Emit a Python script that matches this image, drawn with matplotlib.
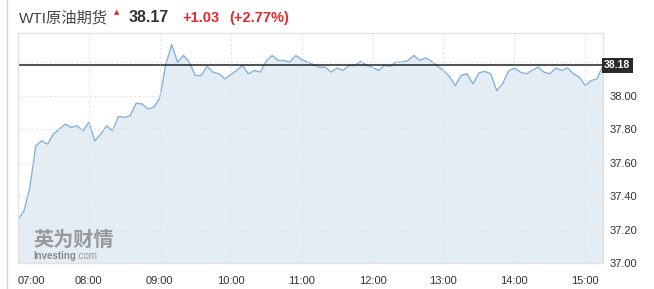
import matplotlib
matplotlib.use("Agg")
import matplotlib.pyplot as plt
import matplotlib.dates as mdates
import pandas as pd
from matplotlib.lines import Line2D

plt.rcParams['font.family'] = ['Liberation Sans', 'Noto Sans CJK SC', 'DejaVu Sans']

# WTI crude oil futures, 5-minute closes from 07:00
prices = [
    37.26, 37.31, 37.45, 37.70, 37.73, 37.71, 37.77, 37.80, 37.83, 37.81,
    37.82, 37.79, 37.84, 37.73, 37.77, 37.82, 37.79, 37.875, 37.87, 37.88,
    37.955, 37.95, 37.92, 37.93, 37.985, 38.185, 38.305, 38.20, 38.24, 38.20,
    38.12, 38.12, 38.175, 38.14, 38.13, 38.10, 38.125, 38.15, 38.18, 38.13,
    38.15, 38.14, 38.205, 38.24, 38.21, 38.21, 38.20, 38.24, 38.215, 38.20,
    38.185, 38.17, 38.17, 38.14, 38.165, 38.15, 38.18, 38.18, 38.205, 38.18,
    38.17, 38.15, 38.18, 38.175, 38.20, 38.20, 38.21, 38.24, 38.21, 38.225,
    38.205, 38.175, 38.15, 38.115, 38.06, 38.12, 38.13, 38.07, 38.135, 38.145,
    38.13, 38.03, 38.07, 38.145, 38.165, 38.14, 38.13, 38.15, 38.17, 38.14,
    38.13, 38.165, 38.15, 38.165, 38.13, 38.11, 38.06, 38.09, 38.10, 38.18,
]
times = pd.date_range("2020-06-05 07:00", periods=len(prices), freq="5min")

last_price = 38.18
title_name = "WTI原油期货"
title_price = "38.17"
title_change = "+1.03"
title_pct = "(+2.77%)"
y_ticks = [37.00, 37.20, 37.40, 37.60, 37.80, 38.00, 38.20]
x_ticks = pd.date_range("2020-06-05 07:00", "2020-06-05 15:00", freq="1h")

fig = plt.figure(figsize=(6.54, 2.89), dpi=100)
ax = fig.add_axes([18 / 654, 1 - 263 / 289, 585 / 654, 230 / 289])

ax.fill_between(times, prices, 37.0, color="#e4edf4", lw=0)
ax.plot(times, prices, color="#82b2de", lw=1.0)
ax.axhline(last_price, color="#222222", lw=1.1)

ax.set_xlim(times[0], times[-1])
ax.set_ylim(37.0, 38.374)

ax.set_yticks(y_ticks)
ax.set_yticklabels(["%.2f" % v if v < 38.1 else "" for v in y_ticks])
ax.yaxis.tick_right()
ax.set_xticks(x_ticks)
ax.xaxis.set_major_formatter(mdates.DateFormatter("%H:%M"))
ax.tick_params(length=0, labelsize=8, colors="#333333")
ax.tick_params(axis="y", pad=5)
ax.tick_params(axis="x", pad=9)
for t in ax.get_yticklabels():
    t.set_horizontalalignment("left")
ax.get_xticklabels()[0].set_horizontalalignment("left")

ax.grid(True, color="#e4e4e4", lw=0.8, linestyle=(0, (2, 2)))
ax.set_axisbelow(False)
for s in ax.spines.values():
    s.set_color("#e2e2e2")
    s.set_linewidth(1.0)

# price tag on the right
ax.text(1.002, (last_price - 37.0) / 1.374, "%.2f" % last_price,
        transform=ax.transAxes, ha="left", va="center", fontsize=7.5,
        fontweight="bold", color="white",
        bbox=dict(boxstyle="square,pad=0.25", fc="#2b2b2b", ec="none"))

# header
fig.text(19 / 654, 1 - 22 / 289, title_name, fontsize=11, color="#444444", va="baseline")
fig.text(117 / 654, 1 - 14 / 289, "▲", fontsize=5, color="#e8262c", ha="center", va="baseline",
         family="DejaVu Sans")
fig.text(129 / 654, 1 - 22 / 289, title_price, fontsize=11.5, fontweight="bold",
         color="#333333", va="baseline")
fig.text(182 / 654, 1 - 22 / 289, title_change, fontsize=10.5, fontweight="bold",
         color="#e8262c", va="baseline")
fig.text(229 / 654, 1 - 22 / 289, title_pct, fontsize=10.5, fontweight="bold",
         color="#e8262c", va="baseline")

# watermark
fig.text(33 / 654, 1 - 246 / 289, "英为财情", fontsize=14.5, fontweight="bold",
         color="#8a8a8a", alpha=0.85, va="baseline", family="Noto Sans CJK SC")
fig.text(33 / 654, 1 - 259 / 289, "Investing", fontsize=7, fontweight="bold",
         color="#8a8a8a", va="baseline")
fig.text(76 / 654, 1 - 259 / 289, ".com", fontsize=7, color="#9a9a9a", va="baseline")

# container border on the left
fig.add_artist(Line2D([7 / 654, 7 / 654], [0, 1], transform=fig.transFigure,
                      color="#cfcfcf", lw=1.0))

fig.savefig("out.png", dpi=100, facecolor="white")
